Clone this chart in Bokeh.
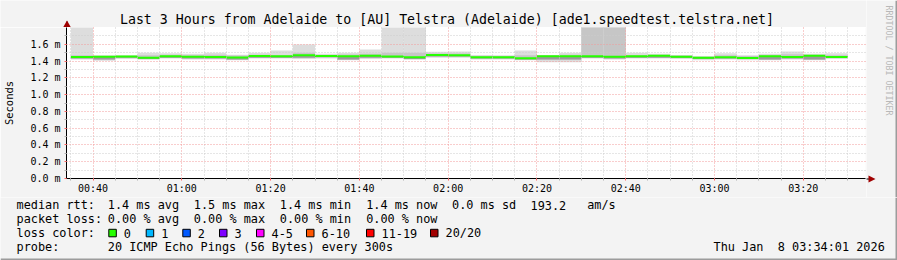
import math
from bokeh.plotting import figure
from bokeh.layouts import column, row
from bokeh.models import FixedTicker, PrintfTickFormatter, ColumnDataSource, Range1d
from bokeh.core.properties import value
from bokeh.embed import file_html
from bokeh.resources import INLINE

# ---------------- data ----------------
range_start = "00:34:01"
range_end = "03:34:01"

bin_end = ["00:40", "00:45", "00:50", "00:55", "01:00", "01:05", "01:10", "01:15", "01:20",
           "01:25", "01:30", "01:35", "01:40", "01:45", "01:50", "01:55", "02:00", "02:05",
           "02:10", "02:15", "02:20", "02:25", "02:30", "02:35", "02:40", "02:45", "02:50",
           "02:55", "03:00", "03:05", "03:10", "03:15", "03:20", "03:25", "03:30"]
step_minutes = 5

median_ms = [1.448, 1.452, 1.454, 1.440, 1.458, 1.450, 1.448, 1.442, 1.460, 1.456, 1.470, 1.460,
             1.456, 1.462, 1.454, 1.444, 1.472, 1.470, 1.444, 1.444, 1.434, 1.456, 1.456, 1.458,
             1.450, 1.458, 1.462, 1.450, 1.440, 1.446, 1.436, 1.458, 1.448, 1.462, 1.448]
max_ms = [1.95, 1.466, 1.466, 1.498, 1.492, 1.486, 1.498, 1.474, 1.498, 1.526, 1.597, 1.486,
          1.498, 1.538, 1.95, 1.95, 1.510, 1.514, 1.470, 1.470, 1.526, 1.470, 1.498, 1.95,
          1.95, 1.498, 1.486, 1.470, 1.458, 1.494, 1.470, 1.486, 1.514, 1.486, 1.494]
hi_ms = [1.470, 1.462, 1.462, 1.470, 1.476, 1.470, 1.474, 1.466, 1.476, 1.470, 1.498, 1.470,
         1.478, 1.486, 1.498, 1.498, 1.490, 1.490, 1.462, 1.460, 1.470, 1.466, 1.476, 1.95,
         1.95, 1.470, 1.470, 1.466, 1.452, 1.470, 1.460, 1.470, 1.480, 1.470, 1.470]
lo_ms = [1.430, 1.420, 1.440, 1.425, 1.440, 1.430, 1.430, 1.420, 1.440, 1.440, 1.440, 1.445,
         1.420, 1.440, 1.440, 1.425, 1.455, 1.455, 1.430, 1.430, 1.420, 1.420, 1.420, 1.440,
         1.430, 1.440, 1.440, 1.435, 1.425, 1.430, 1.425, 1.420, 1.430, 1.420, 1.435]
min_ms = [1.420, 1.405, 1.425, 1.415, 1.430, 1.420, 1.420, 1.410, 1.430, 1.430, 1.425, 1.430,
          1.410, 1.425, 1.430, 1.415, 1.440, 1.440, 1.420, 1.420, 1.410, 1.385, 1.385, 1.430,
          1.420, 1.430, 1.430, 1.425, 1.410, 1.420, 1.410, 1.410, 1.420, 1.410, 1.425]

x_tick_labels = ["00:40", "01:00", "01:20", "01:40", "02:00", "02:20", "02:40", "03:00", "03:20"]
y_major_ticks = [0.0, 0.2, 0.4, 0.6, 0.8, 1.0, 1.2, 1.4, 1.6]
y_minor_ticks = [0.1, 0.3, 0.5, 0.7, 0.9, 1.1, 1.3, 1.5, 1.7]
y_max = 1.8

title_text = "Last 3 Hours from Adelaide to [AU] Telstra (Adelaide) [ade1.speedtest.telstra.net]"
credit_text = "RRDTOOL / TOBI OETIKER"
rtt_legend = ["median rtt:", "1.4 ms avg", "1.5 ms max", "1.4 ms min", "1.4 ms now",
              "0.0 ms sd", "193.2", "am/s"]
loss_legend = ["packet loss:", "0.00 % avg", "0.00 % max", "0.00 % min", "0.00 % now"]
loss_title = "loss color:"
loss_labels = ["0", "1", "2", "3", "4-5", "6-10", "11-19", "20/20"]
loss_colors = ["#26ff00", "#00b8ff", "#0059ff", "#7e00ff", "#ff00ff", "#ff5500", "#ff0000", "#a10000"]
probe_text = ["probe:", "20 ICMP Echo Pings (56 Bytes) every 300s"]
stamp_text = ["Thu Jan", "8 03:34:01 2026"]


def to_min(s):
    parts = [int(v) for v in s.split(":")]
    m = parts[0] * 60 + parts[1]
    if len(parts) > 2:
        m += parts[2] / 60.0
    return m


ends = [to_min(s) for s in bin_end]
starts = [e - step_minutes for e in ends]
x_major = [to_min(s) for s in x_tick_labels]
x_minor = sorted(set(starts + ends) - set(x_major))

src = ColumnDataSource(dict(left=starts, right=ends, med=median_ms, mx=max_ms, hi=hi_ms,
                            lo=lo_ms, mn=min_ms))

FONT = "DejaVu Sans Mono"
BG = "#f3f3f3"
EDGE = "#9c9c9c"
ARROW = "#a00000"

# ---------------- layout geometry (canvas pixels) ----------------
W, H = 897, 260
FL, FR, FT, FB = 66, 865, 27, 178      # plot frame
MAIN_W = FR + 1                         # main column width
MAIN_BOTTOM = 197                       # where the legend strip starts


def pixel_fig(w, h):
    f = figure(width=w, height=h, output_backend="svg", toolbar_location=None, title=None,
               x_range=Range1d(0, w), y_range=Range1d(h, 0),
               x_axis_location=None, y_axis_location=None,
               min_border=0, min_border_left=0, min_border_right=0,
               min_border_top=0, min_border_bottom=0,
               background_fill_color=BG, border_fill_color=BG, outline_line_color=None)
    f.xgrid.visible = False
    f.ygrid.visible = False
    return f


def texts(f, xs, ys, ts, size="11.85px", align="left", color="#000000", angle=0.0):
    f.text(x=xs, y=ys, text=ts, text_font=value(FONT), text_font_size=value(size),
           text_align=align, text_baseline="middle", text_color=color, angle=angle)


# ---------------- main plot ----------------
p = figure(width=MAIN_W, height=MAIN_BOTTOM - FT, output_backend="svg", toolbar_location=None,
           title=None, x_range=Range1d(to_min(range_start), to_min(range_end)),
           y_range=Range1d(0, y_max),
           min_border_left=FL, min_border_right=MAIN_W - FR, min_border_top=0,
           min_border_bottom=MAIN_BOTTOM - FB,
           background_fill_color="white", border_fill_color=BG, outline_line_color=None)

p.quad(left="left", right="right", bottom="mn", top="mx", source=src,
       fill_color="#dddddd", line_color=None)
p.quad(left="left", right="right", bottom="lo", top="hi", source=src,
       fill_color="#c6c6c6", line_color=None)
p.quad(left="left", right="right", bottom="lo", top="med", source=src,
       fill_color="#9a9a9a", line_color=None)
p.segment(x0="left", y0="med", x1="right", y1="med", source=src,
          line_color=loss_colors[0], line_width=2)

p.xaxis.ticker = FixedTicker(ticks=x_major, minor_ticks=x_minor)
p.xaxis.major_label_overrides = {x: lab for x, lab in zip(x_major, x_tick_labels)}
p.yaxis.ticker = FixedTicker(ticks=y_major_ticks, minor_ticks=y_minor_ticks)
p.yaxis.formatter = PrintfTickFormatter(format="%.1f m")
p.yaxis.axis_label = "Seconds"
for ax in (p.xaxis, p.yaxis):
    ax.major_label_text_font = FONT
    ax.major_label_text_font_size = "10px"
    ax.major_label_text_color = "#000000"
    ax.axis_line_color = "black"
    ax.major_tick_in = 0
    ax.major_tick_out = 2
    ax.minor_tick_in = 0
    ax.minor_tick_out = 2
    ax.major_tick_line_color = "#ff6060"
    ax.minor_tick_line_color = "#b0b0b0"
    ax.major_label_standoff = 2
p.yaxis.major_label_standoff = 4
p.yaxis.axis_label_text_font = FONT
p.yaxis.axis_label_text_font_size = "10.5px"
p.yaxis.axis_label_text_font_style = "normal"
p.yaxis.axis_label_text_color = "#000000"
p.yaxis.axis_label_standoff = 12

for g in (p.xgrid, p.ygrid):
    g.grid_line_color = "#f29a9a"
    g.grid_line_dash = "1 2"
    g.minor_grid_line_color = "#cccccc"
    g.minor_grid_line_dash = "1 2"
    g.level = "overlay"

# ---------------- top strip: title + y-axis arrow ----------------
top = pixel_fig(MAIN_W, FT)
texts(top, [446.5], [18.5], [title_text], size="13.25px", align="center")
top.segment(x0=[FL + 0.5], y0=[21], x1=[FL + 0.5], y1=[FT], line_color="black", line_width=1)
top.patch(x=[FL - 3.5, FL + 4.5, FL + 0.5], y=[FT, FT, FT - 7], fill_color=ARROW, line_color=None)

# ---------------- right strip: x-axis arrow, credit, edge ----------------
RW = W - MAIN_W
right = pixel_fig(RW, MAIN_BOTTOM)
right.segment(x0=[-1], y0=[FB + 0.5], x1=[3], y1=[FB + 0.5], line_color="black", line_width=1)
right.patch(x=[2, 2, 9], y=[FB - 3, FB + 4, FB + 0.5], fill_color=ARROW, line_color=None)
texts(right, [888 - MAIN_W], [5], [credit_text], size="8.3px", color="#b8b8b8", angle=-math.pi / 2)
right.quad(left=[RW - 2], right=[RW], top=[0], bottom=[MAIN_BOTTOM], fill_color=EDGE, line_color=None)

# ---------------- legend strip ----------------
LH = H - MAIN_BOTTOM
leg = pixel_fig(W, LH)
row_y = [204.5 - MAIN_BOTTOM, 218.5 - MAIN_BOTTOM, 232.5 - MAIN_BOTTOM, 246.5 - MAIN_BOTTOM]
row1_x = [16, 107.3, 193.3, 279.3, 365.7, 451.5, 530, 586.7]
texts(leg, row1_x, [row_y[0]] * len(row1_x), rtt_legend)
row2_x = [16, 107.3, 193.3, 279.3, 365.7]
texts(leg, row2_x, [row_y[1]] * len(row2_x), loss_legend)
texts(leg, [16], [row_y[2]], [loss_title])
sq_x = [108.3, 145.7, 182.3, 219, 256, 306, 366, 430]
leg.quad(left=sq_x, right=[x + 7.5 for x in sq_x], top=[row_y[2] - 3.7] * len(sq_x),
         bottom=[row_y[2] + 3.8] * len(sq_x), fill_color=loss_colors, line_color="black",
         line_width=1)
texts(leg, [x + 15 for x in sq_x], [row_y[2]] * len(sq_x), loss_labels)
texts(leg, [16, 107.3], [row_y[3]] * 2, probe_text)
texts(leg, [713, 777.3], [row_y[3]] * 2, stamp_text)
leg.quad(left=[W - 2], right=[W], top=[0], bottom=[LH], fill_color=EDGE, line_color=None)
leg.quad(left=[0], right=[W], top=[LH - 2], bottom=[LH], fill_color=EDGE, line_color=None)

layout = column(row(column(row(top), p), right), leg)
open("out.html", "w").write(file_html(layout, INLINE))
